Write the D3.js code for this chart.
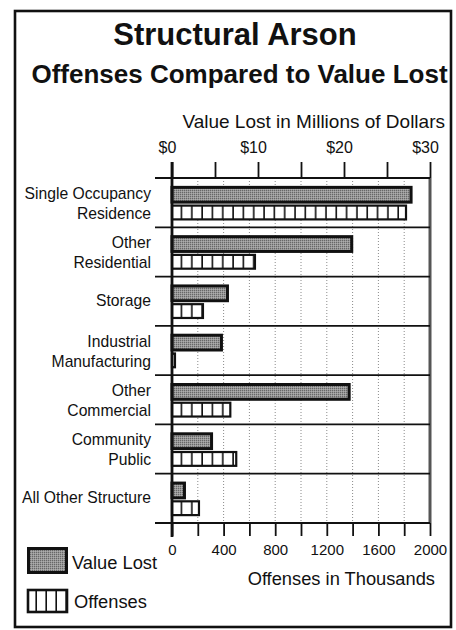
<!DOCTYPE html>
<html>
<head>
<meta charset="utf-8">
<script src="https://cdn.jsdelivr.net/npm/d3@7/dist/d3.min.js"></script>
<style>
  html, body { margin: 0; padding: 0; background: #fff; }
  svg { display: block; font-family: "Liberation Sans", Arial, Helvetica, sans-serif; }
</style>
</head>
<body>
<svg id="chart" width="456" height="630"></svg>
<script>
// Structure categories, one entry per label line
const categories = [
  ["Single Occupancy", "Residence"],
  ["Other", "Residential"],
  ["Storage"],
  ["Industrial", "Manufacturing"],
  ["Other", "Commercial"],
  ["Community", "Public"],
  ["All Other Structure"]
];
// Value lost, millions of dollars
const valueLost = [27.8, 20.9, 6.45, 5.75, 20.6, 4.6, 1.45];
// Offenses, thousands
const offenses = [1814, 643, 240, 23, 452, 498, 209];

// Axis ticks and labels
const valueTicks = [0, 5, 10, 15, 20, 25, 30];
const valueTickLabels = ["$0", "", "$10", "", "$20", "", "$30"];
const offenseTicks = [0, 200, 400, 600, 800, 1000, 1200, 1400, 1600, 1800, 2000];
const offenseTickLabels = ["0", "", "400", "", "800", "", "1200", "", "1600", "", "2000"];

const svg = d3.select("#chart");
const plot = { left: 172, right: 430, top: 178, bottom: 523 };

const catKeys = categories.map(c => c.join(" "));
const y = d3.scaleBand().domain(catKeys).range([plot.top, plot.bottom]).padding(0);
const xVal = d3.scaleLinear().domain([0, 30]).range([plot.left, plot.right]);
const xOff = d3.scaleLinear().domain([0, 2000]).range([plot.left, plot.right]);
const bw = y.bandwidth();

// Fill patterns: stippled gray for value, vertical stripes for offenses
const defs = svg.append("defs");
const stip = defs.append("pattern").attr("id", "stipple")
  .attr("patternUnits", "userSpaceOnUse").attr("width", 2).attr("height", 2);
stip.append("rect").attr("width", 2).attr("height", 2).attr("fill", "#979797");
stip.append("rect").attr("x", 0).attr("y", 0).attr("width", 1).attr("height", 1).attr("fill", "#676767");
stip.append("rect").attr("x", 1).attr("y", 1).attr("width", 1).attr("height", 1).attr("fill", "#adadad");

function stripePattern(id, x0, w) {
  const p = defs.append("pattern").attr("id", id)
    .attr("patternUnits", "userSpaceOnUse").attr("x", x0).attr("y", 0)
    .attr("width", w).attr("height", 10);
  p.append("rect").attr("width", w).attr("height", 10).attr("fill", "#fff");
  p.append("rect").attr("x", w - 1.6).attr("width", 1.6).attr("height", 10).attr("fill", "#111");
}
stripePattern("stripes", plot.left, xOff(80) - xOff(0));
stripePattern("stripesLegend", 27, 10);

// Outer frame
svg.append("rect").attr("x", 15).attr("y", 11).attr("width", 436).attr("height", 616)
  .attr("fill", "none").attr("stroke", "#111").attr("stroke-width", 2.6);

// Titles
svg.append("text").attr("x", 235).attr("y", 45).attr("text-anchor", "middle")
  .attr("font-weight", "bold").attr("font-size", 31).attr("fill", "#111").text("Structural Arson");
svg.append("text").attr("x", 239.5).attr("y", 83).attr("text-anchor", "middle")
  .attr("font-weight", "bold").attr("font-size", 26).attr("fill", "#111").text("Offenses Compared to Value Lost");
svg.append("text").attr("x", 445).attr("y", 128).attr("text-anchor", "end")
  .attr("font-size", 19).attr("fill", "#111").text("Value Lost in Millions of Dollars");

// Vertical dotted grid at offense ticks
svg.append("g").selectAll("line").data(offenseTicks.slice(1, -1)).join("line")
  .attr("x1", d => xOff(d)).attr("x2", d => xOff(d))
  .attr("y1", plot.top).attr("y2", plot.bottom)
  .attr("stroke", "#8a8a8a").attr("stroke-width", 1).attr("stroke-dasharray", "1,2");

// Right border of the plot
svg.append("line").attr("x1", plot.right).attr("x2", plot.right)
  .attr("y1", plot.top).attr("y2", plot.bottom)
  .attr("stroke", "#555").attr("stroke-width", 3);

// Category separators
const seps = catKeys.map(k => y(k)).concat([plot.bottom]);
svg.append("g").selectAll("line").data(seps).join("line")
  .attr("x1", 155).attr("x2", plot.right)
  .attr("y1", d => d).attr("y2", d => d)
  .attr("stroke", "#111").attr("stroke-width", 1.8);

// Top axis (value lost)
const topAxis = d3.axisTop(xVal).tickValues(valueTicks)
  .tickFormat((d, i) => valueTickLabels[i]).tickSize(16).tickPadding(9);
const gTop = svg.append("g").attr("transform", `translate(0,${plot.top})`).call(topAxis);
gTop.select(".domain").remove();
gTop.selectAll(".tick line").attr("stroke", "#111").attr("stroke-width", 1.8);
gTop.selectAll(".tick text").attr("font-size", 16).attr("fill", "#111")
  .attr("font-family", "Liberation Sans, Arial, sans-serif").attr("dx", -5);

// Bottom axis (offenses)
const botAxis = d3.axisBottom(xOff).tickValues(offenseTicks)
  .tickFormat((d, i) => offenseTickLabels[i]).tickSize(13).tickPadding(8);
const gBot = svg.append("g").attr("transform", `translate(0,${plot.bottom})`).call(botAxis);
gBot.select(".domain").remove();
gBot.selectAll(".tick line").attr("stroke", "#111").attr("stroke-width", 1.8);
gBot.selectAll(".tick text").attr("font-size", 15).attr("fill", "#111")
  .attr("font-family", "Liberation Sans, Arial, sans-serif");
svg.append("text").attr("x", 435).attr("y", 585).attr("text-anchor", "end")
  .attr("font-size", 18.3).attr("fill", "#111").text("Offenses in Thousands");

// Category labels
const labels = svg.append("g").selectAll("text").data(categories).join("text")
  .attr("text-anchor", "end").attr("font-size", 15.7).attr("fill", "#111");
labels.each(function(lines, i) {
  const cy = y(catKeys[i]) + bw / 2;
  const t = d3.select(this);
  if (lines.length === 1) {
    t.append("tspan").attr("x", 151).attr("y", cy + 5).text(lines[0]);
  } else {
    lines.forEach((ln, j) => t.append("tspan").attr("x", 151).attr("y", cy - 4 + j * 20).text(ln));
  }
});

// Value lost bars
svg.append("g").selectAll("rect").data(valueLost).join("rect")
  .attr("x", xVal(0)).attr("y", (d, i) => y(catKeys[i]) + bw * 0.19)
  .attr("width", d => xVal(d) - xVal(0)).attr("height", bw * 0.30)
  .attr("fill", "url(#stipple)").attr("stroke", "#111").attr("stroke-width", 3);

// Offense bars
svg.append("g").selectAll("rect").data(offenses).join("rect")
  .attr("x", xOff(0)).attr("y", (d, i) => y(catKeys[i]) + bw * 0.56)
  .attr("width", d => xOff(d) - xOff(0)).attr("height", bw * 0.28)
  .attr("fill", "url(#stripes)").attr("stroke", "#111").attr("stroke-width", 2.2);

// Left axis line
svg.append("line").attr("x1", plot.left).attr("x2", plot.left)
  .attr("y1", 162).attr("y2", 537).attr("stroke", "#111").attr("stroke-width", 2.8);

// Legend
const legend = svg.append("g");
legend.append("rect").attr("x", 28.5).attr("y", 548.5).attr("width", 38).attr("height", 24)
  .attr("fill", "url(#stipple)").attr("stroke", "#111").attr("stroke-width", 3);
legend.append("text").attr("x", 72).attr("y", 569).attr("font-size", 18.3).attr("fill", "#111").text("Value Lost");
legend.append("rect").attr("x", 28).attr("y", 590).attr("width", 39).attr("height", 22)
  .attr("fill", "url(#stripesLegend)").attr("stroke", "#111").attr("stroke-width", 2.6);
legend.append("text").attr("x", 74).attr("y", 608).attr("font-size", 18.3).attr("fill", "#111").text("Offenses");
</script>
</body>
</html>
